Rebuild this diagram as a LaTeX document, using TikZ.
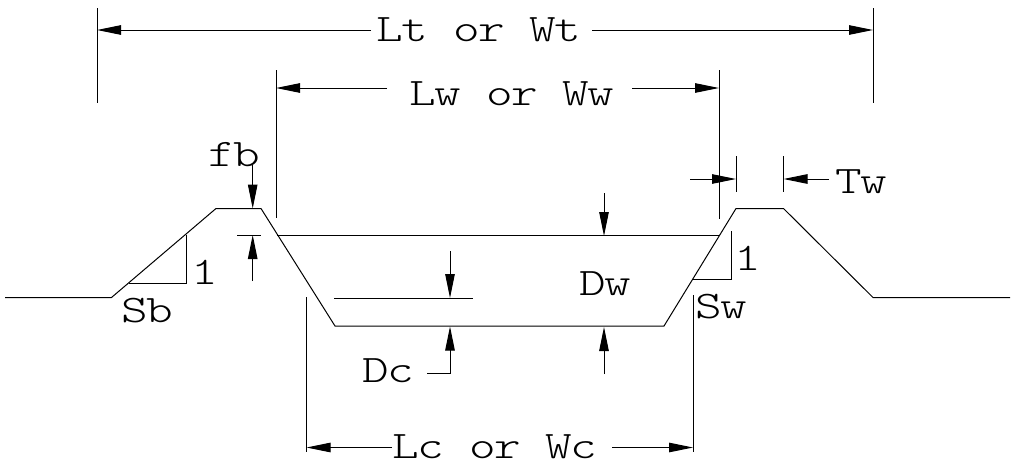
\documentclass[tikz,border=0pt]{standalone}
\usepackage{fontspec}
\usetikzlibrary{arrows.meta}
\newfontfamily\courlike[FakeStretch=1.3,LetterSpace=-4.5]{Latin Modern Mono Light}
\tikzset{
  x=1pt,y=-1pt,
  line/.style={draw=black,line width=1pt},
  dim/.style={draw=black,line width=1pt,-{Triangle[length=24pt,width=9.5pt]}},
  lbl/.style={inner sep=0pt,anchor=base,font=\fontsize{39}{39}\courlike},
}
\begin{document}
\begin{tikzpicture}
\useasboundingbox (0,0) rectangle (1011,466);
% embankment profile
\coordinate (g1) at (5,297.5);
\coordinate (g2) at (111.5,297.5);
\coordinate (c1) at (216,208.5);
\coordinate (c2) at (261,208.5);
\coordinate (b1) at (335,326);
\coordinate (b2) at (664,326);
\coordinate (c3) at (736,208.5);
\coordinate (c4) at (783.5,208.5);
\coordinate (g3) at (873,297.5);
\coordinate (g4) at (1010,297.5);
\draw[line,line join=miter] (g1)--(g2)--(c1)--(c2)--(b1)--(b2)--(c3)--(c4)--(g3)--(g4);
% water surface
\coordinate (w1) at (277,235);
\coordinate (w2) at (720,235);
\draw[line] (w1)--(w2);
% labels
\node[lbl] (lt) at (479,41) {Lt or Wt};
\node[lbl] (lw) at (512,105) {Lw or Ww};
\node[lbl] (lc) at (495,458) {Lc or Wc};
\node[lbl] (fb) at (234,166) {fb};
\node[lbl] (tw) at (861,193) {Tw};
\node[lbl] (sb) at (147,322) {Sb};
\node[lbl] (sw) at (721,318) {Sw};
\node[lbl] (one1) at (205,284) {1};
\node[lbl] (one2) at (748,270) {1};
\node[lbl] (dw) at (605,295) {Dw};
\node[lbl] (dc) at (388,382) {Dc};
% Lt dimension
\coordinate (a1) at (97,8); \coordinate (a2) at (97,103);
\coordinate (a3) at (873,8); \coordinate (a4) at (873,103);
\coordinate (a5) at (97,30); \coordinate (a6) at (873,30);
\coordinate (a7) at (371,30); \coordinate (a8) at (592,30);
\draw[line] (a1)--(a2);
\draw[line] (a3)--(a4);
\draw[dim] (a7)--(a5);
\draw[dim] (a8)--(a6);
% Lw dimension
\coordinate (d1) at (276,70); \coordinate (d2) at (276,218);
\coordinate (d3) at (719,70); \coordinate (d4) at (719,219);
\coordinate (d5) at (276,88); \coordinate (d6) at (719,88);
\coordinate (d7) at (387,88); \coordinate (d8) at (632,88);
\draw[line] (d1)--(d2);
\draw[line] (d3)--(d4);
\draw[dim] (d7)--(d5);
\draw[dim] (d8)--(d6);
% Lc dimension
\coordinate (e1) at (306.5,297); \coordinate (e2) at (306.5,452);
\coordinate (e3) at (693,295); \coordinate (e4) at (693,452);
\coordinate (e5) at (306.5,447.5); \coordinate (e6) at (693,447.5);
\coordinate (e7) at (392,447.5); \coordinate (e8) at (612,447.5);
\draw[line] (e1)--(e2);
\draw[line] (e3)--(e4);
\draw[dim] (e7)--(e5);
\draw[dim] (e8)--(e6);
% freeboard
\coordinate (f1) at (252.7,165); \coordinate (f2) at (252.7,208.5);
\coordinate (f3) at (252.7,281); \coordinate (f4) at (252.7,235);
\coordinate (f5) at (237,235); \coordinate (f6) at (261,235);
\draw[dim] (f1)--(f2);
\draw[line] (f5)--(f6);
\draw[dim] (f3)--(f4);
% top width
\coordinate (t1) at (736,156); \coordinate (t2) at (736,192);
\coordinate (t3) at (783.5,156); \coordinate (t4) at (783.5,192);
\coordinate (t5) at (690,179); \coordinate (t6) at (736,179);
\coordinate (t7) at (829,179); \coordinate (t8) at (783.5,179);
\draw[line] (t1)--(t2);
\draw[line] (t3)--(t4);
\draw[dim] (t5)--(t6);
\draw[dim] (t7)--(t8);
% slope triangles
\coordinate (s1) at (128.5,283); \coordinate (s2) at (186,283); \coordinate (s3) at (186,235);
\draw[line] (s1)--(s2)--(s3);
\coordinate (r1) at (693,279); \coordinate (r2) at (731,279); \coordinate (r3) at (731,231);
\draw[line] (r1)--(r2)--(r3);
% water depth
\coordinate (h1) at (604,193); \coordinate (h2) at (604,236);
\coordinate (h3) at (604,374); \coordinate (h4) at (604,327);
\draw[dim] (h1)--(h2);
\draw[dim] (h3)--(h4);
% crest depth
\coordinate (k1) at (334,298); \coordinate (k2) at (473,298);
\coordinate (k3) at (450,251); \coordinate (k4) at (450,298);
\coordinate (k5) at (427,373); \coordinate (k6) at (450,373); \coordinate (k7) at (450,326.5);
\draw[line] (k1)--(k2);
\draw[dim] (k3)--(k4);
\draw[dim] (k5)--(k6)--(k7);
\end{tikzpicture}
\end{document}
